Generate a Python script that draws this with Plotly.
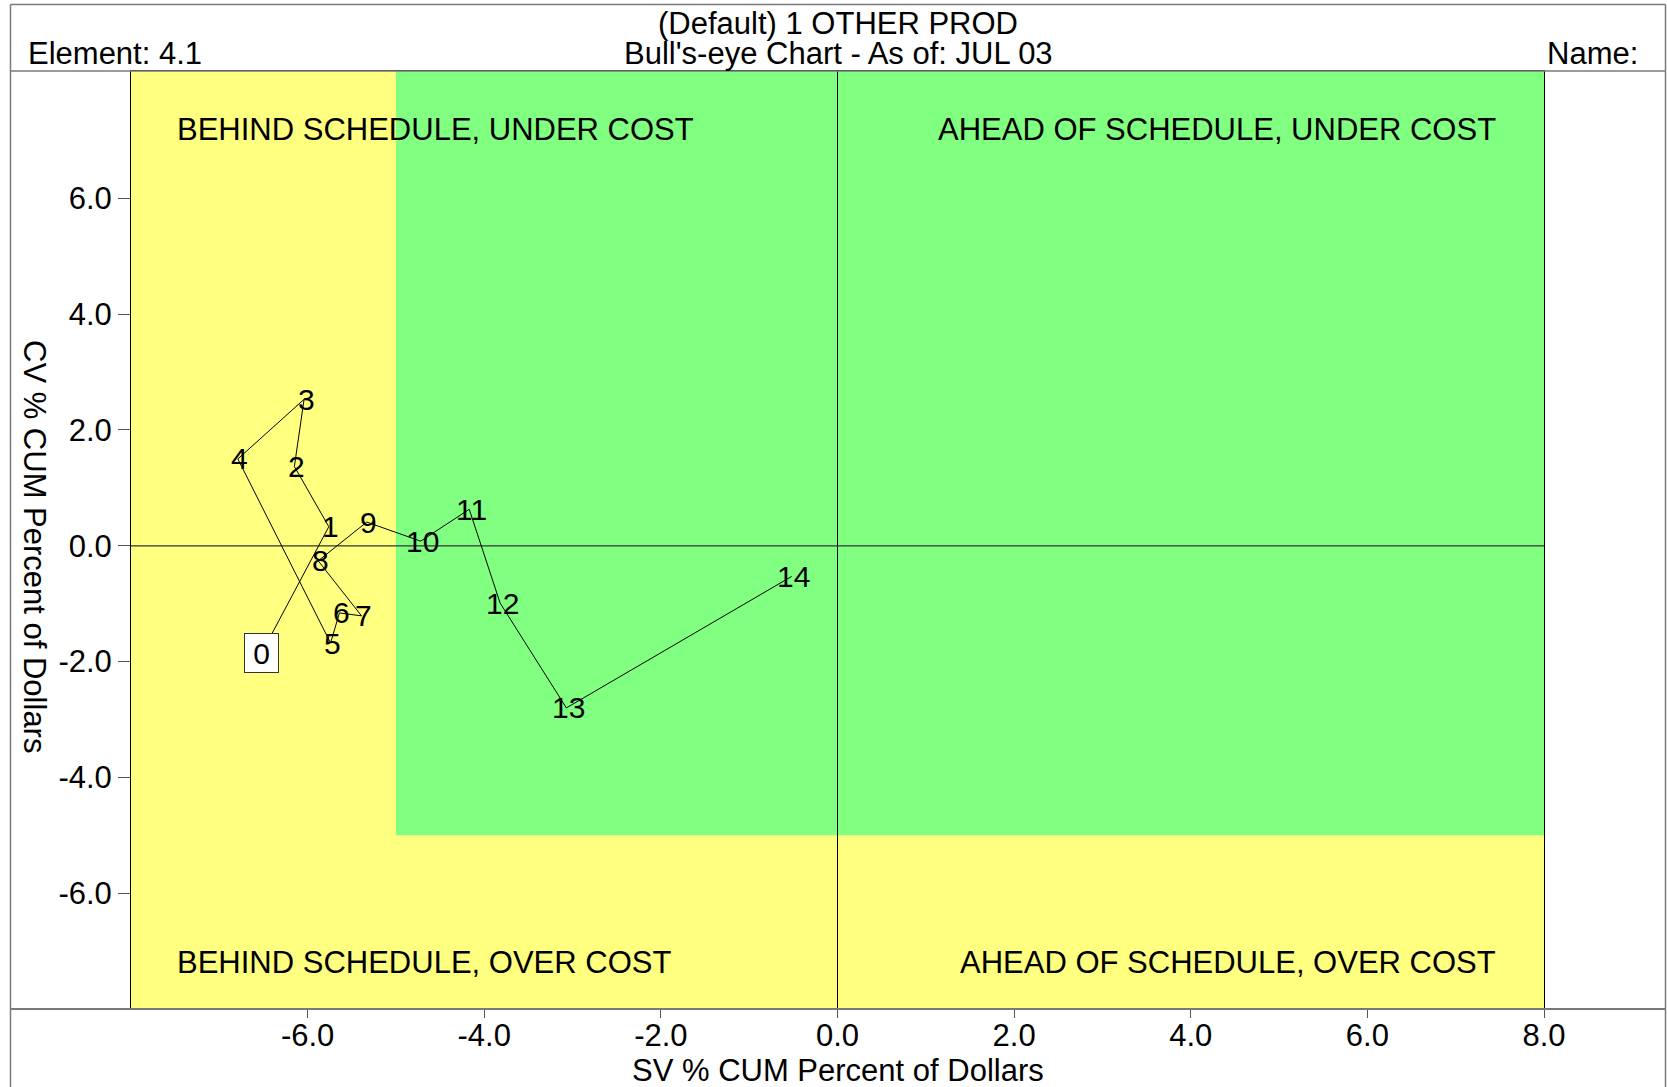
import plotly.graph_objects as go

# ---- data ----
period_labels = ["0", "1", "2", "3", "4", "5", "6", "7", "8", "9", "10", "11", "12", "13", "14"]
sv_pct = [-6.52, -5.76, -6.15, -6.04, -6.79, -5.74, -5.64, -5.39, -5.88, -5.33, -4.72, -4.17, -3.82, -3.07, -0.52]
cv_pct = [-1.85, 0.33, 1.37, 2.53, 1.50, -1.68, -1.16, -1.21, -0.26, 0.41, 0.08, 0.63, -0.99, -2.80, -0.53]

x_ticks = [-6, -4, -2, 0, 2, 4, 6, 8]
y_ticks = [-6, -4, -2, 0, 2, 4, 6]
x_range = [-8, 8]
y_range = [-8, 8.2]
green_zone_x = [-5, 8]
green_zone_y = [-5, 8.2]

quadrant_texts = ["BEHIND SCHEDULE, UNDER COST", "AHEAD OF SCHEDULE, UNDER COST",
                  "BEHIND SCHEDULE, OVER COST", "AHEAD OF SCHEDULE, OVER COST"]
title_line1 = "(Default) 1 OTHER PROD"
title_line2 = "Bull's-eye Chart - As of: JUL 03"
element_text = "Element: 4.1"
name_text = "Name:"
x_title = "SV % CUM Percent of Dollars"
y_title = "CV % CUM Percent of Dollars"

# ---- layout geometry (pixels) ----
W, H = 1667, 1087
PL, PR, PT, PB = 131, 1544, 71, 1009
FONT = "Liberation Sans, Arial, Helvetica, sans-serif"
YELLOW = "#FFFF80"
GREEN = "#80FF80"
FRAME = "#7a7a7a"
FS = 31
LABEL_FS = 30


def px(x):
    return (x - PL) / (PR - PL)


def py(y):
    return (PB - y) / (PB - PT)


fig = go.Figure()

fig.add_trace(go.Scatter(
    x=sv_pct, y=cv_pct,
    mode="lines",
    line=dict(color="black", width=1),
    hoverinfo="x+y",
    showlegend=False,
))

shapes = [
    # green zone
    dict(type="rect", xref="x", yref="y", x0=green_zone_x[0], x1=green_zone_x[1],
         y0=green_zone_y[0], y1=green_zone_y[1], fillcolor=GREEN, line=dict(width=0), layer="below"),
    # zero lines
    dict(type="line", xref="x", yref="y", x0=0, x1=0, y0=y_range[0], y1=y_range[1],
         line=dict(color="black", width=1), layer="below"),
    dict(type="line", xref="x", yref="y", x0=x_range[0], x1=x_range[1], y0=0, y1=0,
         line=dict(color="#333333", width=1.3), layer="below"),
    # outer frame
    dict(type="line", xref="paper", yref="paper", x0=px(10.5), x1=px(1665.5), y0=py(4.5), y1=py(4.5),
         line=dict(color=FRAME, width=1.5)),
    dict(type="line", xref="paper", yref="paper", x0=px(10.5), x1=px(10.5), y0=py(4.5), y1=py(1100),
         line=dict(color=FRAME, width=1.5)),
    dict(type="line", xref="paper", yref="paper", x0=px(1665.5), x1=px(1665.5), y0=py(4.5), y1=py(1100),
         line=dict(color=FRAME, width=1.5)),
    dict(type="line", xref="paper", yref="paper", x0=px(10.5), x1=px(1665.5), y0=py(PT), y1=py(PT),
         line=dict(color=FRAME, width=1.5)),
    dict(type="line", xref="paper", yref="paper", x0=px(10.5), x1=px(1665.5), y0=py(PB), y1=py(PB),
         line=dict(color=FRAME, width=2)),
]

ann_font = dict(family=FONT, size=FS, color="black")
annotations = [
    # quadrant labels
    dict(xref="paper", yref="paper", x=px(175), y=py(130), text=quadrant_texts[0],
         xanchor="left", yanchor="middle", showarrow=False, font=ann_font),
    dict(xref="paper", yref="paper", x=px(1498), y=py(130), text=quadrant_texts[1],
         xanchor="right", yanchor="middle", showarrow=False, font=ann_font),
    dict(xref="paper", yref="paper", x=px(175), y=py(962), text=quadrant_texts[2],
         xanchor="left", yanchor="middle", showarrow=False, font=ann_font),
    dict(xref="paper", yref="paper", x=px(1498), y=py(962), text=quadrant_texts[3],
         xanchor="right", yanchor="middle", showarrow=False, font=ann_font),
    # header
    dict(xref="paper", yref="paper", x=px(838), y=py(24), text=title_line1,
         xanchor="center", yanchor="middle", showarrow=False, font=ann_font),
    dict(xref="paper", yref="paper", x=px(838), y=py(53), text=title_line2,
         xanchor="center", yanchor="middle", showarrow=False, font=ann_font),
    dict(xref="paper", yref="paper", x=px(26), y=py(53), text=element_text,
         xanchor="left", yanchor="middle", showarrow=False, font=ann_font),
    dict(xref="paper", yref="paper", x=px(1640), y=py(53), text=name_text,
         xanchor="right", yanchor="middle", showarrow=False, font=ann_font),
    # axis titles
    dict(xref="paper", yref="paper", x=px(838), y=py(1070), text=x_title,
         xanchor="center", yanchor="middle", showarrow=False, font=ann_font),
    dict(xref="paper", yref="paper", x=px(35), y=py(546), text=y_title, textangle=90,
         xanchor="center", yanchor="middle", showarrow=False, font=ann_font),
    # boxed start point
    dict(xref="x", yref="y", x=sv_pct[0], y=cv_pct[0], text=period_labels[0],
         showarrow=False, xanchor="center", yanchor="middle",
         font=dict(family=FONT, size=LABEL_FS, color="black"),
         bgcolor="white", bordercolor="#333333", borderwidth=1, borderpad=1,
         width=31, height=36),
]

# period labels, centred on each point
for lbl, xv, yv in zip(period_labels[1:], sv_pct[1:], cv_pct[1:]):
    annotations.append(dict(
        xref="x", yref="y", x=xv, y=yv, text=lbl, showarrow=False,
        xanchor="center", yanchor="middle", xshift=2,
        font=dict(family=FONT, size=LABEL_FS, color="black"),
    ))

fig.update_layout(
    width=W, height=H,
    margin=dict(l=PL, r=W - PR, t=PT, b=H - PB, pad=0),
    paper_bgcolor="white",
    plot_bgcolor=YELLOW,
    shapes=shapes,
    annotations=annotations,
    showlegend=False,
    font=dict(family=FONT, size=FS, color="black"),
    xaxis=dict(
        range=x_range, tickvals=x_ticks, ticktext=[f"{v:.1f}" for v in x_ticks],
        showgrid=False, zeroline=False,
        showline=True, linecolor="black", linewidth=1, mirror=True,
        ticks="outside", ticklen=8, tickcolor="#555555",
        ticklabelstandoff=-9,
        tickfont=dict(family=FONT, size=FS, color="black"),
        fixedrange=True,
    ),
    yaxis=dict(
        range=y_range, tickvals=y_ticks, ticktext=[f"{v:.1f}" for v in y_ticks],
        showgrid=False, zeroline=False,
        showline=True, linecolor="black", linewidth=1, mirror=True,
        ticks="outside", ticklen=12, tickcolor="#555555",
        tickfont=dict(family=FONT, size=FS, color="black"),
        fixedrange=True,
    ),
)

fig.write_html(
    "out.html",
    config={"displayModeBar": False},
    post_script="document.body.style.margin='0';document.body.style.overflow='hidden';",
)
